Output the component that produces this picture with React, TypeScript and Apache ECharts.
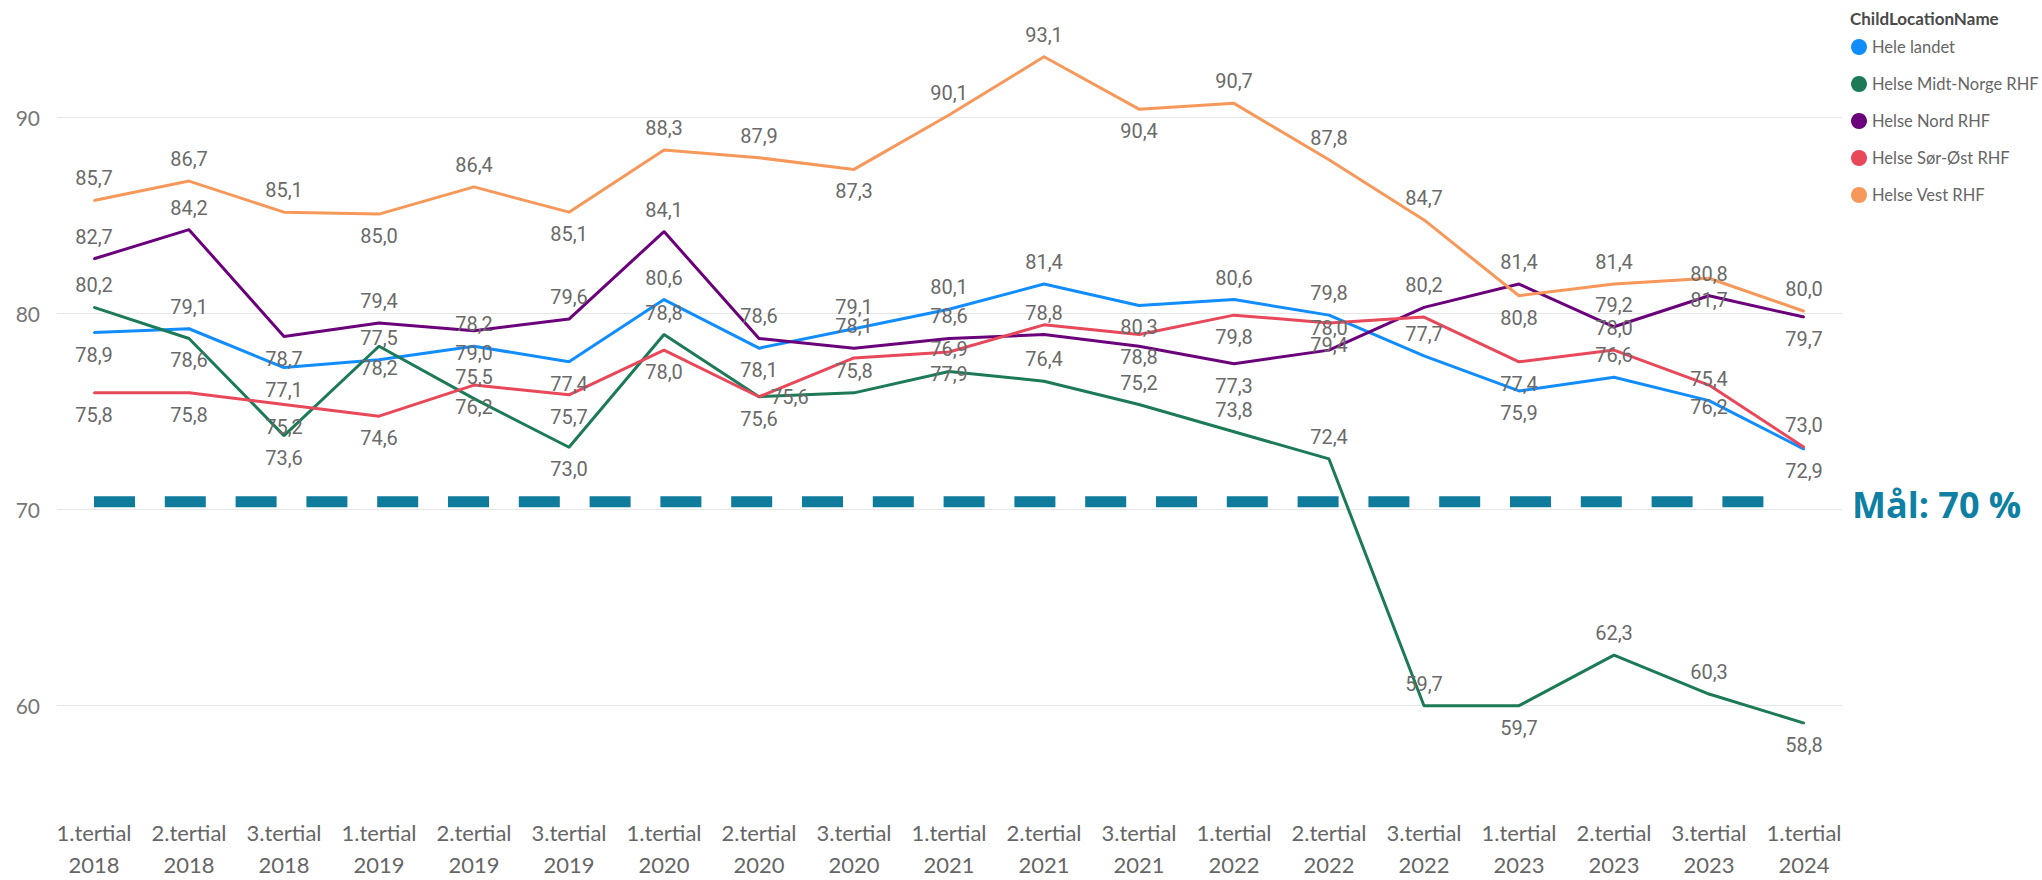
import React, { useEffect, useRef } from "react";
import * as echarts from "echarts";

const categories = [
  "1.tertial 2018", "2.tertial 2018", "3.tertial 2018",
  "1.tertial 2019", "2.tertial 2019", "3.tertial 2019",
  "1.tertial 2020", "2.tertial 2020", "3.tertial 2020",
  "1.tertial 2021", "2.tertial 2021", "3.tertial 2021",
  "1.tertial 2022", "2.tertial 2022", "3.tertial 2022",
  "1.tertial 2023", "2.tertial 2023", "3.tertial 2023",
  "1.tertial 2024",
];

const heleLandet = [78.9, 79.1, 77.1, 77.5, 78.2, 77.4, 80.6, 78.1, 79.1, 80.1, 81.4, 80.3, 80.6, 79.8, 77.7, 75.9, 76.6, 75.4, 72.9];
const midtNorge = [80.2, 78.6, 73.6, 78.2, 75.5, 73.0, 78.8, 75.6, 75.8, 76.9, 76.4, 75.2, 73.8, 72.4, 59.7, 59.7, 62.3, 60.3, 58.8];
const nord = [82.7, 84.2, 78.7, 79.4, 79.0, 79.6, 84.1, 78.6, 78.1, 78.6, 78.8, 78.2, 77.3, 78.0, 80.2, 81.4, 79.2, 80.8, 79.7];
const sorOst = [75.8, 75.8, 75.2, 74.6, 76.2, 75.7, 78.0, 75.6, 77.6, 77.9, 79.3, 78.8, 79.8, 79.4, 79.7, 77.4, 78.0, 76.2, 73.0];
const vest = [85.7, 86.7, 85.1, 85.0, 86.4, 85.1, 88.3, 87.9, 87.3, 90.1, 93.1, 90.4, 90.7, 87.8, 84.7, 80.8, 81.4, 81.7, 80.0];
const targetLevel = categories.map(() => 70.2);

const yTicks = [60, 70, 80, 90];

// label placement per point: T = above, B = below, R = right, N = hidden
const placeHele = "BTBTTBTBTTTBTTTBTTB";
const placeMidt = "TBBBTBTRTTTTTTTBTTB";
const placeNord = "TTBTBTTTTTTNBTTTTTB";
const placeSorOst = "BBBBBBBBNBNBBBNBTBT";
const placeVest = "TTTBTBTTBTTBTTTBTBT";

const seriesDefs = [
  { name: "Hele landet", values: heleLandet, place: placeHele, color: "#118DFF" },
  { name: "Helse Midt-Norge RHF", values: midtNorge, place: placeMidt, color: "#1C7A57" },
  { name: "Helse Nord RHF", values: nord, place: placeNord, color: "#6B007B" },
  { name: "Helse Sør-Øst RHF", values: sorOst, place: placeSorOst, color: "#E8485A" },
  { name: "Helse Vest RHF", values: vest, place: placeVest, color: "#F7985B" },
];

const fmt = (v: number) => v.toFixed(1).replace(".", ",");

// dash pattern for the target line: 24 dashes, then a long gap
const DASH = 41;
const GAP = 29.8;
const targetDash: number[] = [];
for (let i = 0; i < 23; i++) targetDash.push(DASH, GAP);
targetDash.push(DASH, 400);

export default function App() {
  const ref = useRef<HTMLDivElement>(null);

  useEffect(() => {
    if (!ref.current) return;
    const chart = echarts.init(ref.current, null, { renderer: "svg" });

    const posMap: Record<string, string> = { T: "top", B: "bottom", R: "right" };

    const lineSeries = seriesDefs.map((s) => ({
      type: "line",
      name: s.name,
      xAxisIndex: 1,
      yAxisIndex: 1,
      symbol: "circle",
      symbolSize: 2,
      showSymbol: true,
      color: s.color,
      itemStyle: { color: s.color },
      lineStyle: { color: s.color, width: 3 },
      label: {
        show: true,
        distance: 11,
        color: "#6a6a6a",
        fontSize: 20,
        lineHeight: 20,
        fontFamily: "Roboto, 'DejaVu Sans', sans-serif",
        formatter: (p: any) => fmt(p.value),
      },
      data: s.values.map((v, i) => {
        const c = s.place[i];
        if (c === "N") return { value: v, label: { show: false } };
        return { value: v, label: { show: true, position: posMap[c] } };
      }),
      z: 3,
    }));

    const option: any = {
      animation: false,
      backgroundColor: "#ffffff",
      title: {
        text: "ChildLocationName",
        left: 1845,
        top: 5,
        textStyle: {
          fontSize: 17,
          fontWeight: "bold",
          color: "#4a4a4a",
          fontFamily: "Lato, 'Open Sans', sans-serif",
        },
      },
      legend: {
        data: seriesDefs.map((s) => s.name),
        orient: "vertical",
        left: 1846,
        top: 33,
        icon: "circle",
        itemWidth: 16,
        itemHeight: 16,
        itemGap: 19,
        textStyle: {
          fontSize: 16.5,
          lineHeight: 18,
          color: "#666666",
          fontFamily: "Lato, 'Open Sans', sans-serif",
        },
      },
      grid: [
        { left: 57, top: 117.7, width: 1785, height: 587.3 },
        { left: 94, top: 19.8, width: 1710, height: 783.1 },
      ],
      xAxis: [
        { type: "value", gridIndex: 0, show: false, min: 0, max: 1 },
        {
          type: "category",
          gridIndex: 1,
          data: categories,
          boundaryGap: false,
          axisLine: { show: false },
          axisTick: { show: false },
          splitLine: { show: false },
          axisLabel: {
            interval: 0,
            margin: 19,
            fontSize: 22,
            lineHeight: 32,
            color: "#666666",
            fontFamily: "Lato, 'Open Sans', sans-serif",
            formatter: (v: string) => v.replace(" ", "\n"),
          },
        },
      ],
      yAxis: [
        {
          type: "value",
          gridIndex: 0,
          min: yTicks[0],
          max: yTicks[yTicks.length - 1],
          interval: 10,
          axisLine: { show: false },
          axisTick: { show: false },
          axisLabel: {
            margin: 17,
            fontSize: 21,
            color: "#777777",
            fontFamily: "Lato, 'Open Sans', sans-serif",
          },
          splitLine: { lineStyle: { color: "#e6e6e6", width: 1 } },
        },
        {
          type: "value",
          gridIndex: 1,
          min: 55,
          max: 95,
          show: false,
          splitLine: { show: false },
        },
      ],
      series: [
        {
          type: "line",
          name: "Mål",
          xAxisIndex: 1,
          yAxisIndex: 1,
          data: targetLevel,
          symbol: "none",
          color: "#0F7C9D",
          lineStyle: { color: "#0F7C9D", width: 11, type: targetDash, cap: "butt" },
          endLabel: {
            show: true,
            formatter: "Mål: 70 %",
            distance: 48,
            offset: [0, 3],
            color: "#0E80A3",
            fontSize: 36,
            fontWeight: "bold",
            fontFamily: "'Open Sans', Lato, sans-serif",
          },
          z: 2,
        },
        ...lineSeries,
      ],
    };

    chart.setOption(option);
    return () => chart.dispose();
  }, []);

  return (
    <div
      ref={ref}
      style={{ position: "fixed", left: 0, top: 0, width: 2042, height: 880, background: "#fff" }}
    />
  );
}
